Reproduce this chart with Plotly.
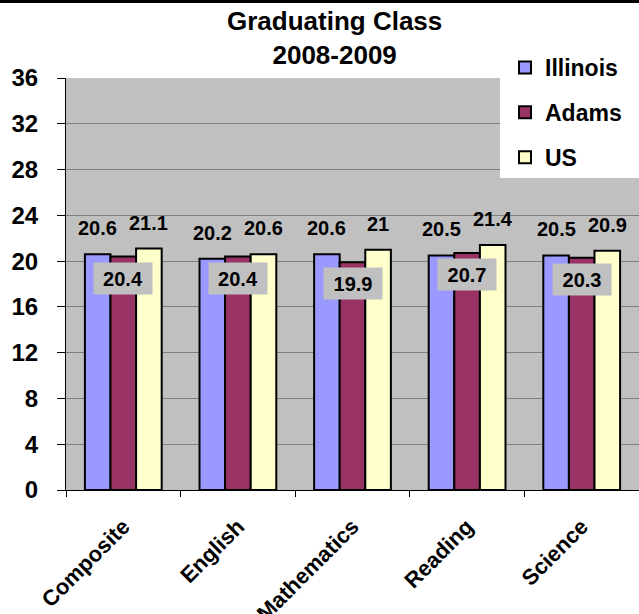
import plotly.graph_objects as go

categories = ["Composite", "English", "Mathematics", "Reading", "Science"]
illinois = [20.6, 20.2, 20.6, 20.5, 20.5]
adams = [20.4, 20.4, 19.9, 20.7, 20.3]
us = [21.1, 20.6, 21.0, 21.4, 20.9]
y_ticks = [0, 4, 8, 12, 16, 20, 24, 28, 32, 36]

W, H = 639, 614
ML, MR, MT, MB = 66, 0, 78, 124
PW = W - ML - MR
PH = H - MT - MB
BARGAP = 0.33
bar_px = PW / len(categories) * (1 - BARGAP) / 3

FONT = "Liberation Sans, Arial, sans-serif"


def py(px_from_top):
    """page pixel (from top) -> paper y"""
    return (PH + MT - px_from_top) / PH


def px(px_from_left):
    return (px_from_left - ML) / PW


fig = go.Figure()
series = [("Illinois", illinois, "#9999FF"), ("Adams", adams, "#993366"), ("US", us, "#FFFFCC")]
for name, vals, col in series:
    fig.add_trace(go.Bar(
        name=name, x=categories, y=vals, legendgroup=name,
        marker=dict(color=col, line=dict(color="black", width=2)),
    ))

annotations = []
for i, c in enumerate(categories):
    for vals, shift in ((illinois, -bar_px), (us, bar_px)):
        annotations.append(dict(
            x=c, y=vals[i], xref="x", yref="y", text=f"{vals[i]:g}", showarrow=False,
            xshift=shift, yshift=26, yanchor="middle",
            font=dict(family=FONT, size=20, color="black", weight="bold"),
        ))
    annotations.append(dict(
        x=c, y=adams[i], xref="x", yref="y", text=f"{adams[i]:g}", showarrow=False,
        yshift=-5, yanchor="top", bgcolor="#C0C0C0", width=56, height=29, borderpad=1,
        font=dict(family=FONT, size=20, color="black", weight="bold"),
    ))

annotations.append(dict(
    text="Graduating Class<br>2008-2009", showarrow=False,
    xref="paper", yref="paper", x=px(334), y=py(4), xanchor="center", yanchor="top",
    font=dict(family=FONT, size=26, color="black", weight="bold"),
))

fig.update_layout(
    width=W, height=H,
    margin=dict(l=ML, r=MR, t=MT, b=MB, autoexpand=False),
    paper_bgcolor="white", plot_bgcolor="#C0C0C0",
    barmode="group", bargap=BARGAP, bargroupgap=0,
    showlegend=True,
    legend=dict(x=px(505), xanchor="left", y=py(46), yanchor="top",
                bgcolor="rgba(0,0,0,0)", tracegroupgap=12, traceorder="grouped",
                font=dict(family=FONT, size=23, color="black", weight="bold")),
    annotations=annotations,
    shapes=[
        dict(type="rect", xref="paper", yref="paper", x0=px(500), x1=1,
             y0=py(178), y1=1, fillcolor="white", line=dict(width=0), layer="above"),
        dict(type="line", xref="paper", yref="paper", x0=-0.2, x1=1.2,
             y0=py(1.5), y1=py(1.5), line=dict(color="black", width=3)),
    ],
)
fig.update_yaxes(
    range=[0, 36], tickvals=y_ticks, showgrid=True, gridcolor="#808080", gridwidth=1,
    showline=True, linecolor="black", linewidth=1, ticks="outside", ticklen=8,
    tickcolor="black", ticklabelstandoff=14, zeroline=False, automargin=False,
    tickfont=dict(family=FONT, size=24, color="black", weight="bold"),
)
fig.update_xaxes(
    showgrid=False, showline=True, linecolor="black", linewidth=1, ticks="outside",
    ticklen=6, tickcolor="black", tickson="boundaries", tickangle=-45,
    ticklabelstandoff=14, automargin=False,
    tickfont=dict(family=FONT, size=22, color="black", weight="bold"),
)

fig.write_html("out.html", config={"displayModeBar": False},
               post_script="document.body.style.margin='0';")
